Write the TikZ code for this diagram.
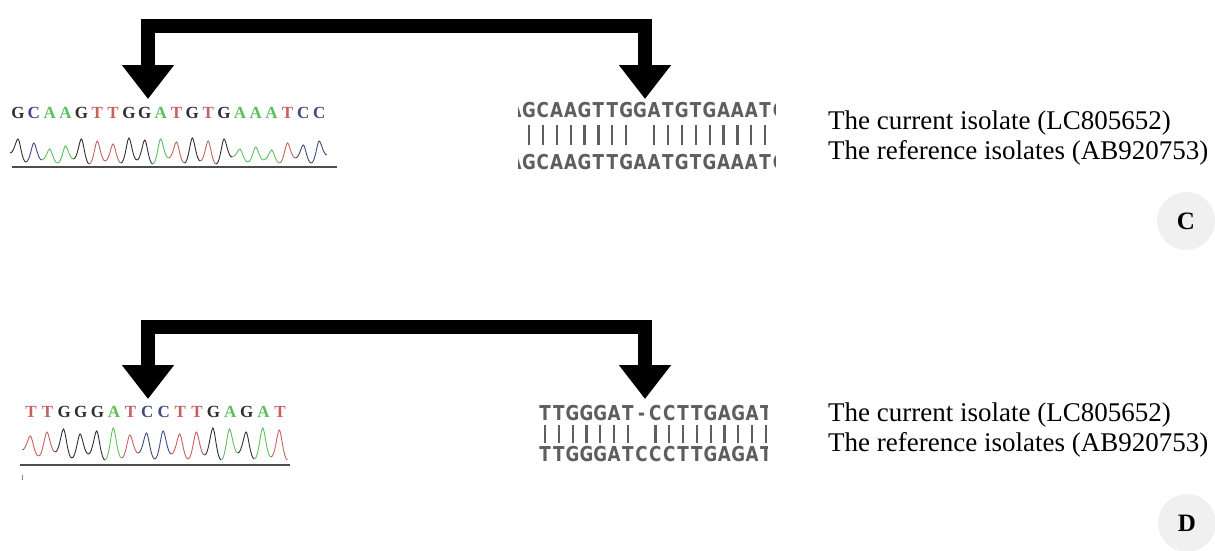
\documentclass[tikz,border=0pt]{standalone}
\usepackage{fontspec}
\setmainfont{Liberation Serif}
\newfontfamily\alnfont[FakeStretch=0.82]{DejaVu Sans}
\usetikzlibrary{arrows.meta}
\definecolor{baseA}{HTML}{5CBF5C}
\definecolor{baseC}{HTML}{404A80}
\definecolor{baseG}{HTML}{2E2E2E}
\definecolor{baseT}{HTML}{C86060}
\definecolor{alngray}{HTML}{5E5E5E}
\definecolor{circfill}{HTML}{F0F0F0}
\newcommand\chromwave[4]{%
  \foreach \b/\vl/\h/\vr [count=\i from 0] in {#4} {
    \pgfmathsetmacro\xc{#1+#2*\i}
    \draw[wave, color=base\b] (\xc-#2/2, #3-\vl) .. controls +(#2*0.25,0) and +(-#2*0.12,0) .. (\xc, #3-\h) .. controls +(#2*0.12,0) and +(-#2*0.25,0) .. (\xc+#2/2, #3-\vr);
  }}
\begin{document}
\begin{tikzpicture}[x=1pt,y=-1pt,
  bracket/.style={line width=14pt, line join=miter,
    {Triangle[width=50pt,length=34pt]}-{Triangle[width=50pt,length=34pt]}},
  wave/.style={line width=0.9pt},
  chromtxt/.style={font=\fontsize{17}{17}\selectfont\bfseries, inner sep=0pt, anchor=base},
  alntxt/.style={font=\alnfont\bfseries\fontsize{20.5}{20.5}\selectfont, text=alngray, inner sep=0pt, anchor=base},
  alnbar/.style={draw=alngray, line width=2.2pt},
  baseline/.style={draw=baseG!85, line width=2pt},
  label/.style={font=\fontsize{27}{27}\selectfont, anchor=base west, inner sep=0pt},
  panel/.style={circle, fill=circfill, minimum size=58pt, inner sep=0pt, font=\fontsize{25}{25}\selectfont\bfseries}]
\useasboundingbox (0,0) rectangle (1215,550);

% ---------- panel C ----------
\coordinate (tipC1) at (148,99);
\coordinate (tipC2) at (645,99);
\draw[bracket] (tipC1) -- (tipC1 |- 0,26) -- (tipC2 |- 0,26) -- (tipC2);

\foreach \c [count=\i from 0] in {G,C,A,A,G,T,T,G,G,A,T,G,T,G,A,A,A,T,C,C}
  \node[chromtxt, text=base\c] (cC-\i) at (18+15.85*\i,118.5) {\c};
\chromwave{18}{15.85}{165}{G/12/26/3, C/3/22/5, A/5/16/2, A/2/19/6, G/6/26/1, T/1/24/4, T/4/21/2, G/2/27/5, G/5/25/1, A/1/26/7, T/7/23/2, G/2/27/4, T/4/24/1, G/1/26/8, A/8/16/3, A/3/18/5, A/5/15/2, T/2/22/7, C/7/20/2, C/2/24/10}
\draw[baseline] (12,167) -- (337,167);

\begin{scope}
  \clip (518,95) rectangle (775,175);
  \foreach \c [count=\i from 0] in {A,G,C,A,A,G,T,T,G,G,A,T,G,T,G,A,A,A,T,C}
    \node[alntxt] (aC1-\i) at (515+13.9*\i,117.5) {\c};
  \foreach \i in {1,...,8,10,11,...,19}
    \draw[alnbar] (515+13.9*\i,125) -- (515+13.9*\i,145);
  \foreach \c [count=\i from 0] in {A,G,C,A,A,G,T,T,G,A,A,T,G,T,G,A,A,A,T,C}
    \node[alntxt] (aC2-\i) at (515+13.9*\i,169.5) {\c};
\end{scope}

\node[label] (curC) at (828,129) {The current isolate (LC805652)};
\node[label] (refC) at (828,159) {The reference isolates (AB920753)};
\node[panel] (pC) at (1186,221) {C};

% ---------- panel D ----------
\coordinate (tipD1) at (148,399);
\coordinate (tipD2) at (645,399);
\draw[bracket] (tipD1) -- (tipD1 |- 0,327) -- (tipD2 |- 0,327) -- (tipD2);

\foreach \c [count=\i from 0] in {T,T,G,G,G,A,T,C,C,T,T,G,A,G,A,T}
  \node[chromtxt, text=base\c] (cD-\i) at (31+16.6*\i,417) {\c};
\chromwave{30.3}{16.6}{462}{T/12/26/6, T/6/30/10, G/10/33/4, G/4/28/8, G/8/31/2, A/2/34/4, T/4/27/9, C/9/29/3, C/3/31/8, T/8/28/3, T/3/30/7, G/7/34/2, A/2/33/9, G/9/30/3, A/3/34/5, T/5/32/2}
\draw[baseline] (20,465) -- (290,465);
\draw[draw=baseG!60, line width=1pt] (22,475) -- (22,480);

\begin{scope}
  \clip (530,395) rectangle (767,470);
  \foreach \c [count=\i from 0] in {T,T,G,G,G,A,T,-,C,C,T,T,G,A,G,A,T}
    \node[alntxt] (aD1-\i) at (545+13.8*\i,420.5) {\c};
  \foreach \i in {0,...,6,8,9,...,16}
    \draw[alnbar] (545+13.8*\i,425) -- (545+13.8*\i,443);
  \foreach \c [count=\i from 0] in {T,T,G,G,G,A,T,C,C,C,T,T,G,A,G,A,T}
    \node[alntxt] (aD2-\i) at (545+13.8*\i,461.5) {\c};
\end{scope}

\node[label] (curD) at (828,421) {The current isolate (LC805652)};
\node[label] (refD) at (828,451) {The reference isolates (AB920753)};
\node[panel] (pD) at (1187,523) {D};
\end{tikzpicture}
\end{document}
